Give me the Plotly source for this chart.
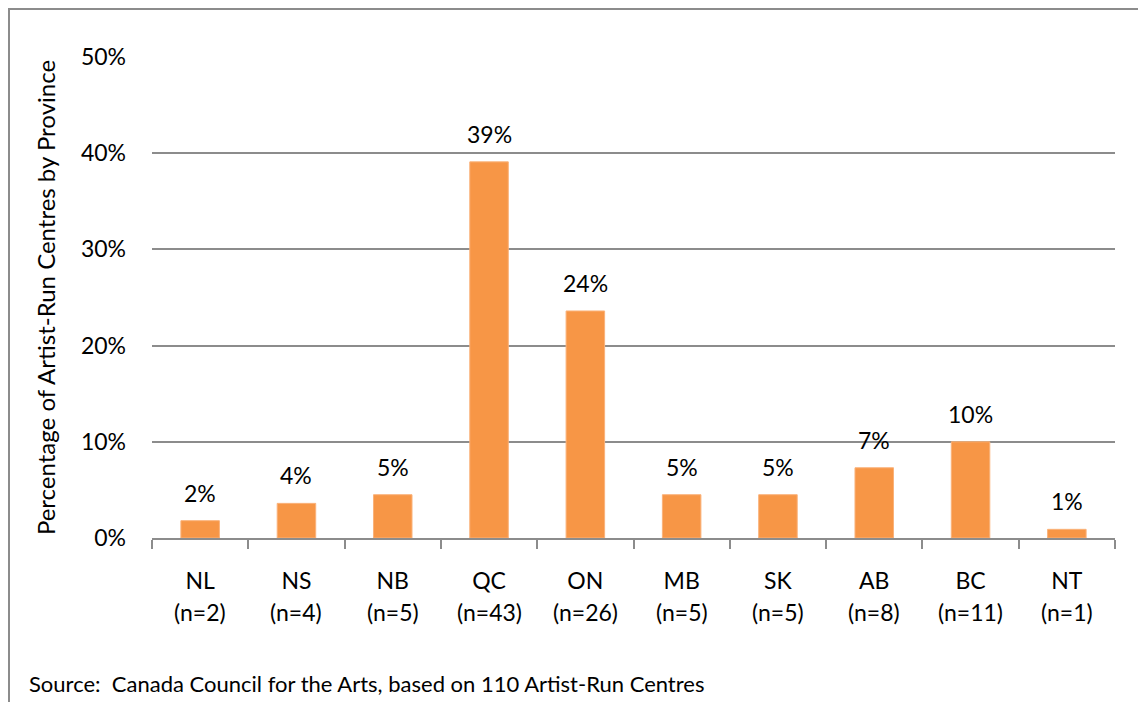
import plotly.graph_objects as go

provinces = ["NL", "NS", "NB", "QC", "ON", "MB", "SK", "AB", "BC", "NT"]
counts = ["(n=2)", "(n=4)", "(n=5)", "(n=43)", "(n=26)", "(n=5)", "(n=5)", "(n=8)", "(n=11)", "(n=1)"]
percent = [1.8, 3.6, 4.5, 39.1, 23.6, 4.5, 4.5, 7.3, 10.0, 0.9]
labels = ["2%", "4%", "5%", "39%", "24%", "5%", "5%", "7%", "10%", "1%"]
y_ticks = [0, 10, 20, 30, 40, 50]
y_ticklabels = ["0%", "10%", "20%", "30%", "40%", "50%"]

FONT = "Lato, 'Open Sans', sans-serif"
FS = 23
W, H = 1138, 694          # page body has an 8px margin
L, R, T, B = 144, 31, 49, 164
pw, ph = W - L - R, H - T - B

fig = go.Figure()
fig.add_trace(go.Bar(
    x=provinces, y=percent, width=0.4,
    marker=dict(color="#F79646", line=dict(color="#FAB27A", width=1)),
    hoverinfo="skip",
))

for p, v, t in zip(provinces, percent, labels):
    fig.add_annotation(x=p, y=v, text=t, showarrow=False, yanchor="middle",
                       yshift=28, font=dict(size=FS, color="#000000", family=FONT))

for p, c in zip(provinces, counts):
    fig.add_annotation(x=p, xref="x", yref="paper", y=-74 / ph, text=c, showarrow=False,
                       yanchor="middle", xanchor="center",
                       font=dict(size=FS, color="#000000", family=FONT))

fig.add_annotation(xref="paper", yref="paper",
                   x=(19 - L) / pw, y=(H - B - 675) / ph,
                   xanchor="left", yanchor="middle", showarrow=False,
                   text="Source:  Canada Council for the Arts, based on 110 Artist-Run Centres",
                   font=dict(size=22, color="#000000", family=FONT))

fig.add_shape(type="rect", xref="paper", yref="paper",
              x0=(1 - L) / pw, x1=(W + 20 - L) / pw,
              y0=(H - B - (H + 20)) / ph, y1=(H - B - 1) / ph,
              line=dict(color="#8C8C8C", width=2), fillcolor="rgba(0,0,0,0)", layer="below")

fig.update_layout(
    width=W, height=H,
    margin=dict(l=L, r=R, t=T, b=B),
    paper_bgcolor="white", plot_bgcolor="white",
    showlegend=False,
    font=dict(family=FONT, size=FS, color="#000000"),
)
fig.update_xaxes(
    showline=True, linecolor="#8C8C8C", linewidth=2,
    ticks="outside", tickson="boundaries", ticklen=9, tickcolor="#8C8C8C", tickwidth=2,
    tickfont=dict(size=FS, family=FONT), ticklabelstandoff=21,
    showgrid=False,
)
fig.update_yaxes(
    range=[0, 50], tickvals=y_ticks, ticktext=y_ticklabels,
    showgrid=True, gridcolor="#8C8C8C", gridwidth=1.5,
    zeroline=False, showline=False, ticks="",
    tickfont=dict(size=FS, family=FONT), ticklabelstandoff=25,
    title=dict(text="Percentage of Artist-Run Centres by Province",
               font=dict(size=24, family=FONT), standoff=18),
)

fig.write_html("out.html")
